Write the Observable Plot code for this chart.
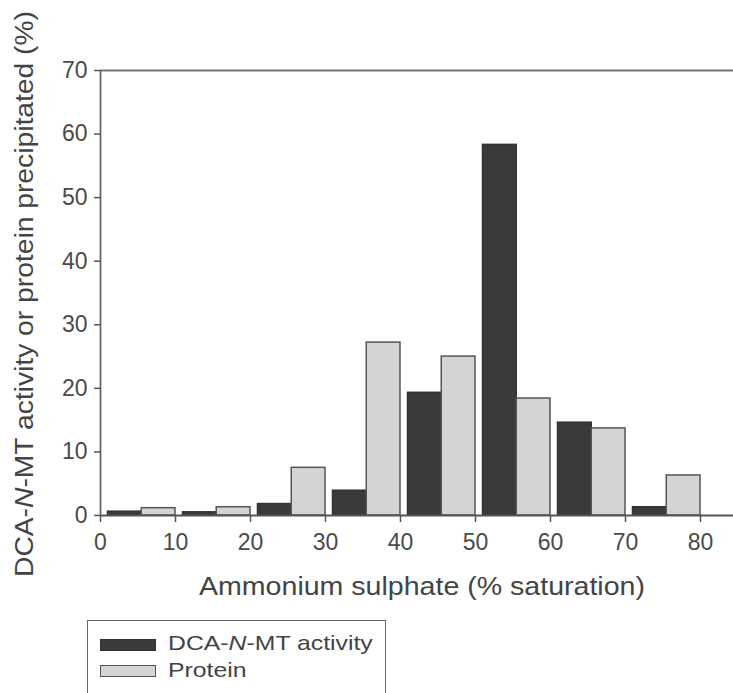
<!DOCTYPE html>
<html>
<head>
<meta charset="utf-8">
<script src="https://cdn.jsdelivr.net/npm/d3@7"></script>
<script src="https://cdn.jsdelivr.net/npm/@observablehq/plot@0.6"></script>
<style>
  html, body { margin: 0; padding: 0; background: #fff; }
  body { font-family: "Liberation Sans", Arial, sans-serif; color: #444; width: 733px; height: 693px; overflow: hidden; }
  #chart svg { display: block; }
  .legend { position: relative; margin-left: 87px; margin-top: 10px; width: 299px; height: 90px; box-sizing: border-box; border: 1.5px solid #666; border-bottom: none; }
  .sw { position: absolute; left: 12px; width: 56px; height: 12px; box-sizing: border-box; }
  .lt { position: absolute; left: 80px; font-size: 21px; line-height: 21px; white-space: nowrap; transform: scaleX(1.18); transform-origin: left center; color: #444; }
</style>
</head>
<body>
<div id="chart"></div>
<div class="legend">
  <div class="sw" style="top:18px;background:#3a3a3a;border:1px solid #333;"></div>
  <div class="lt" style="top:11px;">DCA-<i>N</i>-MT activity</div>
  <div class="sw" style="top:44px;background:#d4d4d4;border:1.5px solid #555;"></div>
  <div class="lt" style="top:38px;">Protein</div>
</div>
<script>
// Ammonium sulphate fractions (start of each 10% saturation interval)
const fractionStart = [0, 10, 20, 30, 40, 50, 60, 70];
// DCA-N-MT activity precipitated (%)
const activity = [0.6, 0.5, 1.8, 3.9, 19.3, 58.3, 14.6, 1.3];
// Protein precipitated (%)
const protein = [1.15, 1.3, 7.5, 27.2, 25.0, 18.4, 13.7, 6.3];
const xTicks = [0, 10, 20, 30, 40, 50, 60, 70, 80];
const yTicks = [0, 10, 20, 30, 40, 50, 60, 70];

const rows = [];
fractionStart.forEach((s, i) => {
  rows.push({start: s, series: "activity", value: activity[i]});
  rows.push({start: s, series: "protein", value: protein[i]});
});

const x1 = d => d.start + (d.series === "activity" ? 1 : 5.5);
const x2 = d => d.start + (d.series === "activity" ? 5.5 : 10);

const chart = Plot.plot({
  width: 733,
  height: 610,
  marginLeft: 100,
  marginRight: 0,
  marginTop: 70,
  marginBottom: 95,
  style: {fontFamily: '"Liberation Sans", Arial, sans-serif', color: "#4a4a4a", background: "#fff"},
  x: {domain: [0, 84.4]},
  y: {domain: [0, 70]},
  marks: [
    Plot.rectY(rows, {
      x1, x2, y1: 0, y2: "value",
      fill: d => d.series === "activity" ? "#3a3a3a" : "#d4d4d4",
      stroke: d => d.series === "activity" ? "#333" : "#555",
      strokeWidth: 1.5
    }),
    Plot.ruleY([0], {stroke: "#555", strokeWidth: 1.8}),
    Plot.ruleY([70], {stroke: "#777", strokeWidth: 1.8}),
    Plot.ruleX([0], {y1: 0, y2: 70, stroke: "#666", strokeWidth: 1.8}),
    Plot.axisX({ticks: xTicks, tickSize: 7, tickPadding: 11, fontSize: 23, label: null, stroke: "#555", strokeWidth: 1.5}),
    Plot.axisY({ticks: yTicks, tickSize: 6, tickPadding: 7, fontSize: 23, label: null, stroke: "#555", strokeWidth: 1.5})
  ]
});
document.getElementById("chart").appendChild(chart);

const svg = d3.select(chart);
// y-axis title
const yt = svg.append("text")
  .attr("transform", "translate(33,294) rotate(-90)")
  .attr("text-anchor", "middle")
  .attr("font-size", 25)
  .attr("fill", "#444")
  .attr("textLength", 566)
  .attr("lengthAdjust", "spacingAndGlyphs");
yt.append("tspan").text("DCA-");
yt.append("tspan").attr("font-style", "italic").text("N");
yt.append("tspan").text("-MT activity or protein precipitated (%)");
// x-axis title
svg.append("text")
  .attr("x", 422)
  .attr("y", 595)
  .attr("text-anchor", "middle")
  .attr("font-size", 25)
  .attr("fill", "#444")
  .attr("textLength", 446)
  .attr("lengthAdjust", "spacingAndGlyphs")
  .text("Ammonium sulphate (% saturation)");
</script>
</body>
</html>
